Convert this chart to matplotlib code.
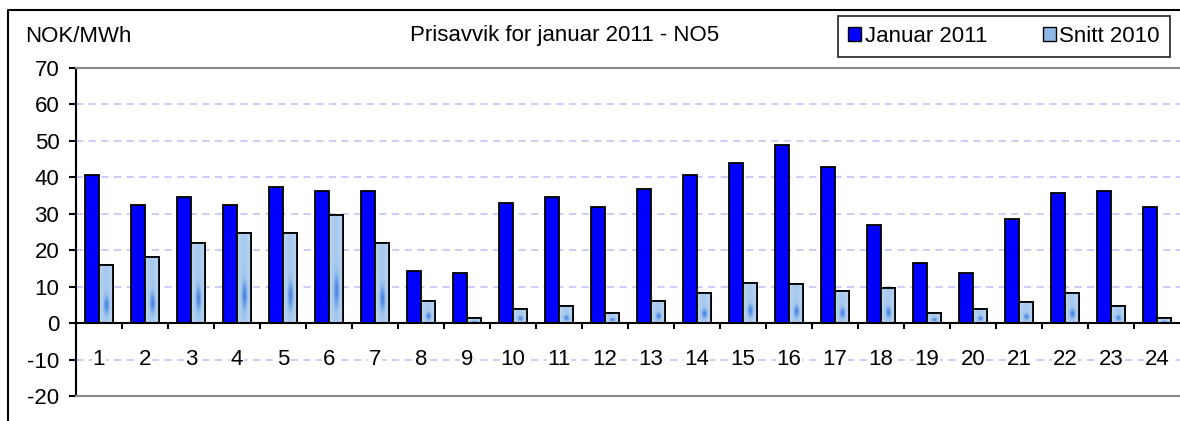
import numpy as np
import matplotlib
matplotlib.use('Agg')
import matplotlib.pyplot as plt
from matplotlib.patches import Patch
from matplotlib.lines import Line2D
from matplotlib.colors import LinearSegmentedColormap

plt.rcParams['font.family'] = ['Liberation Sans', 'DejaVu Sans']

hours = [str(h) for h in range(1, 25)]
januar_2011 = [40.7, 32.4, 34.6, 32.4, 37.3, 36.2, 36.2, 14.4, 13.8, 33.0, 34.6, 31.9,
               36.8, 40.7, 43.9, 48.9, 42.8, 26.9, 16.6, 13.8, 28.6, 35.8, 36.2, 31.9]
snitt_2010 = [16.0, 18.2, 22.0, 24.8, 24.8, 29.6, 22.0, 6.2, 1.3, 4.0, 4.6, 2.9,
              6.2, 8.3, 11.1, 10.6, 8.9, 9.5, 2.9, 4.0, 5.7, 8.3, 4.6, 1.3]
y_ticks = [-20, -10, 0, 10, 20, 30, 40, 50, 60, 70]

FS = 16

fig = plt.figure(figsize=(11.8, 4.21), dpi=100)
ax = fig.add_axes([76 / 1180, 1 - 396 / 421, 1 - 76 / 1180, (396 - 68) / 421])

x = np.arange(len(hours))
w = 0.3
ax.bar(x - w / 2, januar_2011, w, color='#0000ff', edgecolor='black', linewidth=1.3, zorder=3)
snitt_bars = ax.bar(x + w / 2, snitt_2010, w, color='#a8cbee', edgecolor='black',
                    linewidth=1.3, zorder=3)

# gradient fill inside the "Snitt 2010" bars
cmap = LinearSegmentedColormap.from_list('snitt', ['#d6e6f7', '#9fc4ec', '#2f6fe0'])
for b in snitt_bars:
    bx, by = b.get_x(), b.get_y()
    bw, bh = b.get_width(), b.get_height()
    gx, gy = np.meshgrid(np.linspace(-1, 1, 30), np.linspace(-1, 1, 60))
    grad = 0.45 - 0.2 * np.abs(gx) + 0.45 * np.exp(-((gx - 0.1) ** 2 * 5 + (gy + 0.4) ** 2 * 10))
    im = ax.imshow(grad, cmap=cmap, vmin=0, vmax=1.0, extent=[bx, bx + bw, by, by + bh],
                   aspect='auto', zorder=3.5, origin='lower')
    im.set_clip_path(b)
    ax.add_patch(plt.Rectangle((bx, by), bw, bh, fill=False, edgecolor='black',
                               linewidth=1.3, zorder=4))

ax.set_xlim(-0.5, len(hours) - 0.5)
ax.set_ylim(-20, 70)
ax.set_autoscale_on(False)

for v in [10, 20, 30, 40, 50, 60, -10]:
    ax.axhline(v, color='#c8c8f8', linestyle=(0, (4, 3)), linewidth=1.3, zorder=1)
ax.axhline(0, color='black', linewidth=1.5, zorder=5)
ax.vlines(x[1:] - 0.5, -1.6, 0, color='black', linewidth=1.5, zorder=5)

for i, h in enumerate(hours):
    ax.text(i, -10, h, ha='center', va='center', fontsize=FS, zorder=6,
            bbox=dict(facecolor='white', edgecolor='none', pad=0.5))

ax.set_xticks([])
ax.set_yticks(y_ticks)
ax.set_yticklabels([str(v) for v in y_ticks], fontsize=FS)
ax.tick_params(axis='y', direction='out', length=5, width=1.5, pad=7)
ax.spines['left'].set_linewidth(1.5)
ax.spines['left'].set_color('black')
ax.spines['right'].set_visible(False)
for s in ['top', 'bottom']:
    ax.spines[s].set_color('#888888')
    ax.spines[s].set_linewidth(1.5)

fig.text(25 / 1180, 1 - 37 / 421, 'NOK/MWh', fontsize=FS, va='center', ha='left')
fig.text(565 / 1180, 1 - 36 / 421, 'Prisavvik for januar 2011 - NO5', fontsize=FS,
         va='center', ha='center')

# outer chart border
fig.add_artist(Line2D([8 / 1180, 8 / 1180, 1.0], [0, 1 - 10 / 421, 1 - 10 / 421],
                      color='black', linewidth=1.5))

handles = [Patch(facecolor='#0000ff', edgecolor='black'),
           Patch(facecolor='#8fb8e8', edgecolor='black')]
leg = fig.legend(handles, ['Januar 2011', 'Snitt 2010'], ncol=2, fontsize=FS,
                 loc='center', bbox_to_anchor=((838 + 1170) / 2 / 1180, 1 - 36 / 421),
                 frameon=True, fancybox=False, edgecolor='black', handlelength=0.6,
                 handleheight=0.6, handletextpad=0.15, columnspacing=2.5,
                 borderpad=0.45, borderaxespad=0)
leg.get_frame().set_linewidth(1.3)

fig.savefig('out.png', dpi=100)
